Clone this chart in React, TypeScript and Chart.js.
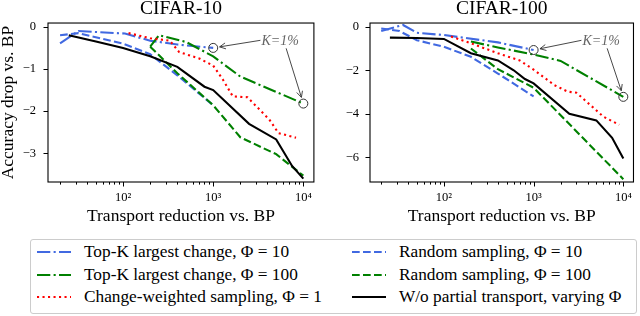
import React, { useEffect, useRef } from 'react';
import { Chart, registerables } from 'chart.js';

Chart.register(...registerables);

const FONT = "'Liberation Serif', 'DejaVu Serif', serif";
const BLUE = '#4169e1';
const GREEN = '#008000';
const RED = '#ff0000';
const BLACK = '#000000';

const DASHDOT = [13.3, 3.3, 2.1, 3.3];
const DASHED = [7.7, 3.3];
const DOTTED = [2.1, 3.4];

// ---------- CIFAR-10 ----------
const c10TopK10X = [20, 32, 105, 200, 400, 1000];
const c10TopK10Y = [-0.39, -0.1, -0.16, -0.33, -0.42, -0.5];
const c10TopK100X = [200, 250, 500, 1000, 2000, 10000];
const c10TopK100Y = [-0.47, -0.2, -0.36, -0.7, -1.18, -1.82];
const c10ChangeX = [115, 200, 330, 420, 700, 1000, 1280, 1650, 2400, 4200, 5300, 8300];
const c10ChangeY = [-0.15, -0.27, -0.33, -0.6, -0.75, -0.92, -1.25, -1.65, -1.67, -2.2, -2.52, -2.63];
const c10Rand10X = [20, 32, 100, 200, 400, 1000];
const c10Rand10Y = [-0.2, -0.15, -0.4, -0.65, -1.15, -1.86];
const c10Rand100X = [200, 400, 1000, 2000, 5000, 10000];
const c10Rand100Y = [-0.47, -1.1, -1.86, -2.62, -3.02, -3.53];
const c10FullX = [25, 50, 100, 200, 400, 800, 1000, 2500, 5000, 7500, 10000];
const c10FullY = [-0.2, -0.35, -0.5, -0.7, -0.95, -1.42, -1.5, -2.3, -2.67, -3.3, -3.6];
const c10MarkX = [1000, 10000];
const c10MarkY = [-0.5, -1.82];
const c10YTicks = [0, -1, -2, -3];

// ---------- CIFAR-100 ----------
const c100TopK10X = [20, 35, 50, 100, 400, 1000];
const c100TopK10Y = [-0.2, 0.08, -0.28, -0.38, -0.72, -1.07];
const c100TopK100X = [200, 400, 1000, 2000, 10000];
const c100TopK100Y = [-0.68, -0.95, -1.28, -1.57, -3.22];
const c100ChangeX = [120, 200, 400, 700, 1000, 1700, 2400, 3000, 4300, 6000, 9000];
const c100ChangeY = [-0.45, -0.76, -1.22, -1.55, -1.97, -2.68, -2.98, -3.03, -3.6, -4.13, -4.5];
const c100Rand10X = [20, 32, 50, 100, 200, 400, 1000];
const c100Rand10Y = [-0.08, -0.2, -0.62, -0.92, -1.38, -2.15, -3.2];
const c100Rand100X = [200, 400, 1000, 10000];
const c100Rand100Y = [-1.0, -1.95, -2.8, -7.0];
const c100FullX = [25, 50, 100, 200, 400, 600, 800, 1000, 2500, 5000, 7500, 10000];
const c100FullY = [-0.5, -0.52, -0.56, -1.22, -1.55, -2.0, -2.4, -2.6, -4.0, -4.3, -5.1, -6.05];
const c100MarkX = [1000, 10000];
const c100MarkY = [-1.07, -3.22];
const c100YTicks = [0, -2, -4, -6];

const xMajorTicks = [100, 1000, 10000];
const xMajorLabels = ['10²', '10³', '10⁴'];
const xMinorTicks = [20, 30, 40, 50, 60, 70, 80, 90, 200, 300, 400, 500, 600, 700, 800, 900,
  2000, 3000, 4000, 5000, 6000, 7000, 8000, 9000];

const annText = 'K=1%';

const legendLabels = [
  'Top-K largest change, Φ = 10',
  'Top-K largest change, Φ = 100',
  'Change-weighted sampling, Φ = 1',
  'Random sampling, Φ = 10',
  'Random sampling, Φ = 100',
  'W/o partial transport, varying Φ',
];

const zip = (xs: number[], ys: number[]) => xs.map((x, i) => ({ x, y: ys[i] }));
const fmtY = (v: number) => (v === 0 ? '0' : (v < 0 ? '\u2212' : '') + Math.abs(v));

const framePlugin = {
  id: 'frame',
  afterDraw(chart: any, _args: any, opts: any) {
    const { ctx, chartArea: a, scales } = chart;
    ctx.save();
    ctx.strokeStyle = '#000';
    ctx.lineWidth = 1.1;
    ctx.setLineDash([]);
    ctx.strokeRect(a.left, a.top, a.right - a.left, a.bottom - a.top);
    ctx.lineWidth = 1;
    ctx.beginPath();
    for (const v of opts.yTicks) {
      const py = Math.round(scales.y.getPixelForValue(v)) + 0.5;
      ctx.moveTo(a.left - 4.5, py);
      ctx.lineTo(a.left, py);
    }
    for (const v of xMajorTicks) {
      const px = Math.round(scales.x.getPixelForValue(v)) + 0.5;
      ctx.moveTo(px, a.bottom);
      ctx.lineTo(px, a.bottom + 4.5);
    }
    for (const v of xMinorTicks) {
      const px = Math.round(scales.x.getPixelForValue(v)) + 0.5;
      ctx.moveTo(px, a.bottom);
      ctx.lineTo(px, a.bottom + 2.6);
    }
    ctx.stroke();
    ctx.restore();
  },
};

function arrow(ctx: any, sx: number, sy: number, tx: number, ty: number, stop: number) {
  const dx = tx - sx;
  const dy = ty - sy;
  const len = Math.hypot(dx, dy);
  const ux = dx / len;
  const uy = dy / len;
  const ex = tx - ux * stop;
  const ey = ty - uy * stop;
  ctx.beginPath();
  ctx.moveTo(sx, sy);
  ctx.lineTo(ex, ey);
  const hl = 6;
  const hw = 3;
  ctx.moveTo(ex - ux * hl - uy * hw, ey - uy * hl + ux * hw);
  ctx.lineTo(ex, ey);
  ctx.lineTo(ex - ux * hl + uy * hw, ey - uy * hl - ux * hw);
  ctx.stroke();
}

const annPlugin = {
  id: 'ann',
  afterDatasetsDraw(chart: any, _args: any, opts: any) {
    const { ctx, scales } = chart;
    const cx = scales.x.getPixelForValue(opts.tx);
    const cy = scales.y.getPixelForValue(opts.ty);
    ctx.save();
    ctx.font = `italic 14px ${FONT}`;
    ctx.fillStyle = '#666666';
    ctx.textAlign = 'center';
    ctx.textBaseline = 'middle';
    ctx.fillText(annText, cx, cy);
    const w = ctx.measureText(annText).width;
    ctx.strokeStyle = '#333333';
    ctx.lineWidth = 0.9;
    ctx.setLineDash([]);
    const t1x = scales.x.getPixelForValue(opts.mx[0]);
    const t1y = scales.y.getPixelForValue(opts.my[0]);
    const t2x = scales.x.getPixelForValue(opts.mx[1]);
    const t2y = scales.y.getPixelForValue(opts.my[1]);
    arrow(ctx, cx - w / 2 - 1, cy - 1, t1x, t1y, 6.5);
    arrow(ctx, cx + 6, cy + 7, t2x, t2y, 6.5);
    ctx.restore();
  },
};

function lineDs(xs: number[], ys: number[], color: string, dash: number[]) {
  return {
    data: zip(xs, ys),
    borderColor: color,
    backgroundColor: color,
    borderWidth: 2.1,
    borderDash: dash,
    pointRadius: 0,
    fill: false,
    tension: 0,
  };
}

function makeConfig(p: any) {
  return {
    type: 'line',
    data: {
      datasets: [
        {
          data: zip(p.markX, p.markY),
          showLine: false,
          pointRadius: 4.5,
          pointBorderWidth: 1,
          pointBorderColor: '#333333',
          pointBackgroundColor: 'rgba(0,0,0,0)',
          borderColor: '#333333',
          clip: false,
        },
        lineDs(p.fullX, p.fullY, BLACK, []),
        lineDs(p.r100X, p.r100Y, GREEN, DASHED),
        lineDs(p.r10X, p.r10Y, BLUE, DASHED),
        lineDs(p.chX, p.chY, RED, DOTTED),
        lineDs(p.t100X, p.t100Y, GREEN, DASHDOT),
        lineDs(p.t10X, p.t10Y, BLUE, DASHDOT),
      ],
    },
    options: {
      animation: false,
      responsive: false,
      events: [],
      layout: { autoPadding: false, padding: { left: 0, right: p.padRight, top: 0, bottom: 0 } },
      plugins: {
        legend: { display: false },
        tooltip: { enabled: false },
        title: {
          display: true,
          text: p.title,
          fullSize: false,
          color: '#000',
          font: { family: FONT, size: 19.5, weight: 'normal', lineHeight: 0.95 },
          padding: { top: 0, bottom: 4.5 },
        },
        frame: { yTicks: p.yTicks },
        ann: { tx: p.annX, ty: p.annY, mx: p.markX, my: p.markY },
      },
      scales: {
        x: {
          type: 'logarithmic',
          position: 'bottom',
          min: p.xMin,
          max: p.xMax,
          grid: { display: false, drawTicks: false },
          border: { display: false },
          afterBuildTicks: (s: any) => {
            s.ticks = xMajorTicks.map((v) => ({ value: v, major: true }));
          },
          afterFit: (s: any) => {
            s.height = 48;
          },
          ticks: {
            autoSkip: false,
            maxRotation: 0,
            minRotation: 0,
            padding: 8,
            color: '#000',
            font: { family: FONT, size: 12.5 },
            callback: (v: number) => {
              const i = xMajorTicks.indexOf(v);
              return i >= 0 ? xMajorLabels[i] : '';
            },
          },
          title: {
            display: true,
            text: 'Transport reduction vs. BP',
            color: '#000',
            font: { family: FONT, size: 17.5, lineHeight: 1 },
            padding: { top: 0, bottom: 4.75 },
          },
        },
        y: {
          type: 'linear',
          position: 'left',
          min: p.yMin,
          max: p.yMax,
          grid: { display: false, drawTicks: false },
          border: { display: false },
          afterBuildTicks: (s: any) => {
            s.ticks = p.yTicks.map((v: number) => ({ value: v }));
          },
          afterFit: (s: any) => {
            s.width = p.yWidth;
          },
          ticks: {
            padding: p.yPad,
            color: '#000',
            font: { family: FONT, size: 12.5 },
            callback: (v: number) => fmtY(v),
          },
          title: {
            display: p.yTitle,
            text: 'Accuracy drop vs. BP',
            color: '#000',
            font: { family: FONT, size: 17.5, lineHeight: 1 },
            padding: { top: 0, bottom: 0 },
          },
        },
      },
    },
    plugins: [framePlugin, annPlugin],
  };
}

const panel10 = {
  title: 'CIFAR-10',
  t10X: c10TopK10X, t10Y: c10TopK10Y,
  t100X: c10TopK100X, t100Y: c10TopK100Y,
  chX: c10ChangeX, chY: c10ChangeY,
  r10X: c10Rand10X, r10Y: c10Rand10Y,
  r100X: c10Rand100X, r100Y: c10Rand100Y,
  fullX: c10FullX, fullY: c10FullY,
  markX: c10MarkX, markY: c10MarkY,
  yTicks: c10YTicks,
  xMin: 14.7, xMax: 13100, yMin: -3.68, yMax: 0.09,
  yWidth: 48, yPad: 12, padRight: 5, yTitle: true,
  annX: 5530, annY: -0.344,
};

const panel100 = {
  title: 'CIFAR-100',
  t10X: c100TopK10X, t10Y: c100TopK10Y,
  t100X: c100TopK100X, t100Y: c100TopK100Y,
  chX: c100ChangeX, chY: c100ChangeY,
  r10X: c100Rand10X, r10Y: c100Rand10Y,
  r100X: c100Rand100X, r100Y: c100Rand100Y,
  fullX: c100FullX, fullY: c100FullY,
  markX: c100MarkX, markY: c100MarkY,
  yTicks: c100YTicks,
  xMin: 15, xMax: 12980, yMin: -7.13, yMax: 0.17,
  yWidth: 50, yPad: 11, padRight: 3, yTitle: false,
  annX: 5660, annY: -0.67,
};

function Panel({ p, left }: { p: any; left: number }) {
  const ref = useRef<HTMLCanvasElement | null>(null);
  useEffect(() => {
    if (!ref.current) return;
    const chart = new Chart(ref.current, makeConfig(p) as any);
    return () => chart.destroy();
  }, []);
  return (
    <canvas
      ref={ref}
      width={320}
      height={230}
      style={{ position: 'absolute', left, top: 0, width: 320, height: 230, display: 'block' }}
    />
  );
}

const legendStyles = [
  { color: BLUE, dash: DASHDOT },
  { color: GREEN, dash: DASHDOT },
  { color: RED, dash: DOTTED },
  { color: BLUE, dash: DASHED },
  { color: GREEN, dash: DASHED },
  { color: BLACK, dash: [] as number[] },
];
const legendRowsY = [252, 274.5, 297];
const legendHandleX = [37, 352];
const legendTextX = [84, 399];

export default function App() {
  return (
    <div style={{ position: 'absolute', left: 0, top: 0, width: 640, height: 316, background: '#fff', overflow: 'hidden' }}>
      <Panel p={panel10} left={0} />
      <Panel p={panel100} left={320} />
      <div
        style={{
          position: 'absolute', left: 30, top: 239, width: 607, height: 75,
          boxSizing: 'border-box', border: '1px solid #cccccc', borderRadius: 3,
        }}
      />
      {legendLabels.map((lab, i) => {
        const col = i < 3 ? 0 : 1;
        const row = i % 3;
        const y = legendRowsY[row];
        const st = legendStyles[i];
        return (
          <React.Fragment key={i}>
            <svg
              width={34}
              height={10}
              style={{ position: 'absolute', left: legendHandleX[col], top: y - 5 }}
            >
              <line
                x1={0} y1={5} x2={34} y2={5}
                stroke={st.color}
                strokeWidth={2.1}
                strokeDasharray={st.dash.length ? st.dash.join(' ') : undefined}
              />
            </svg>
            <div
              style={{
                position: 'absolute', left: legendTextX[col], top: y - 10, height: 20,
                lineHeight: '20px', fontSize: 17.3, fontFamily: FONT, color: '#000', whiteSpace: 'nowrap',
              }}
            >
              {lab}
            </div>
          </React.Fragment>
        );
      })}
    </div>
  );
}
